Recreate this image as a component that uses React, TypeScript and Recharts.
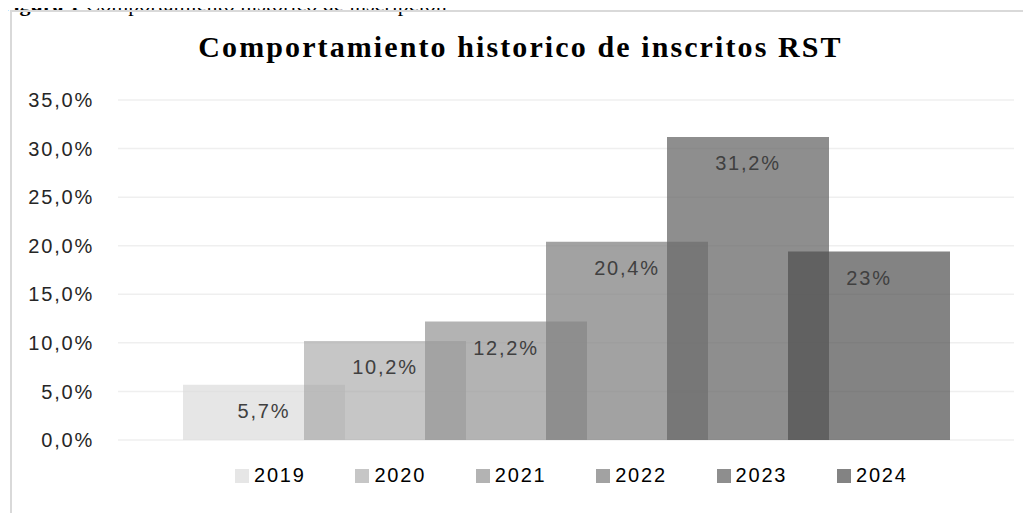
import React from 'react';
import { BarChart, Bar, XAxis, YAxis, CartesianGrid, LabelList } from 'recharts';

const years = ['2019', '2020', '2021', '2022', '2023', '2024'];
const values = [5.7, 10.2, 12.2, 20.4, 31.2, 19.4];
const valueLabels = ['5,7%', '10,2%', '12,2%', '20,4%', '31,2%', '23%'];
const yTicks = [0, 5, 10, 15, 20, 25, 30, 35];

// grey fills, drawn semi-transparent so overlaps get darker
const FILLS = ['#dbdbdb', '#a0a0a0', '#959595', '#828282', '#686868', '#4e4e4e'];
const OPACITIES = [0.7, 0.6, 0.72, 0.74, 0.75, 0.7];

const SANS = '"Liberation Sans", Arial, sans-serif';
const SERIF = '"Liberation Serif", "Times New Roman", serif';

const chartData = [
    years.reduce((row: any, y, i) => {
        row[y] = values[i];
        return row;
    }, { cat: 'RST' }),
];

const fmtPct = (v: number) => `${v.toFixed(1).replace('.', ',')}%`;

export default function App() {
    return (
        <div style={{ position: 'relative', width: 1015, height: 505, overflow: 'visible' }}>
            {/* figure caption, cut off at the top of the page */}
            <div
                style={{
                    position: 'absolute',
                    left: -8,
                    top: -17,
                    fontFamily: SERIF,
                    fontSize: 22,
                    whiteSpace: 'nowrap',
                    color: '#000',
                }}
            >
                <b>Figura 1</b> Comportamiento histórico de inscripción
            </div>

            {/* chart frame */}
            <div
                style={{
                    position: 'absolute',
                    left: 2,
                    top: 2,
                    width: 1040,
                    height: 540,
                    border: '2px solid #d9d9d9',
                    boxSizing: 'border-box',
                }}
            />

            <div
                style={{
                    position: 'absolute',
                    left: -8,
                    top: 22,
                    width: 1031,
                    textAlign: 'center',
                    fontFamily: SERIF,
                    fontWeight: 'bold',
                    fontSize: 30,
                    letterSpacing: 2.1,
                    color: '#000',
                    paddingLeft: 10,
                    boxSizing: 'border-box',
                }}
            >
                Comportamiento historico de inscritos RST
            </div>

            <div style={{ position: 'absolute', left: -8, top: -8 }}>
                <BarChart
                    width={1031}
                    height={450}
                    data={chartData}
                    margin={{ top: 100, right: 17, bottom: 10, left: 0 }}
                    barSize={162}
                    barGap={-41}
                >
                    <CartesianGrid vertical={false} stroke="#efefef" strokeWidth={1.5} />
                    <XAxis dataKey="cat" hide />
                    <YAxis
                        width={118}
                        domain={[0, 35]}
                        ticks={yTicks}
                        interval={0}
                        tickFormatter={fmtPct}
                        axisLine={false}
                        tickLine={false}
                        tickSize={6}
                        tickMargin={18}
                        tick={{ fill: '#262626', fontSize: 20, fontFamily: SANS, letterSpacing: 1.8 }}
                    />
                    {years.map((y, i) => (
                        <Bar
                            key={y}
                            dataKey={y}
                            name={y}
                            fill={FILLS[i]}
                            fillOpacity={OPACITIES[i]}
                            isAnimationActive={false}
                        >
                            <LabelList
                                dataKey={y}
                                position="insideTop"
                                offset={19}
                                formatter={() => valueLabels[i]}
                                style={{ fill: '#404040', fontSize: 20, fontFamily: SANS, letterSpacing: 1.8 }}
                            />
                        </Bar>
                    ))}
                </BarChart>
            </div>

            {/* legend */}
            <div
                style={{
                    position: 'absolute',
                    left: 227,
                    top: 456,
                    display: 'flex',
                    fontFamily: SANS,
                    fontSize: 20,
                    letterSpacing: 1.8,
                    color: '#000',
                }}
            >
                {years.map((y, i) => (
                    <div key={`legend-${y}`} style={{ width: 120.4, display: 'flex', alignItems: 'center' }}>
                        <svg width={14} height={14} style={{ marginRight: 5 }}>
                            <rect width={14} height={14} fill="#fff" />
                            <rect width={14} height={14} fill={FILLS[i]} fillOpacity={OPACITIES[i]} />
                        </svg>
                        <span>{y}</span>
                    </div>
                ))}
            </div>
        </div>
    );
}
